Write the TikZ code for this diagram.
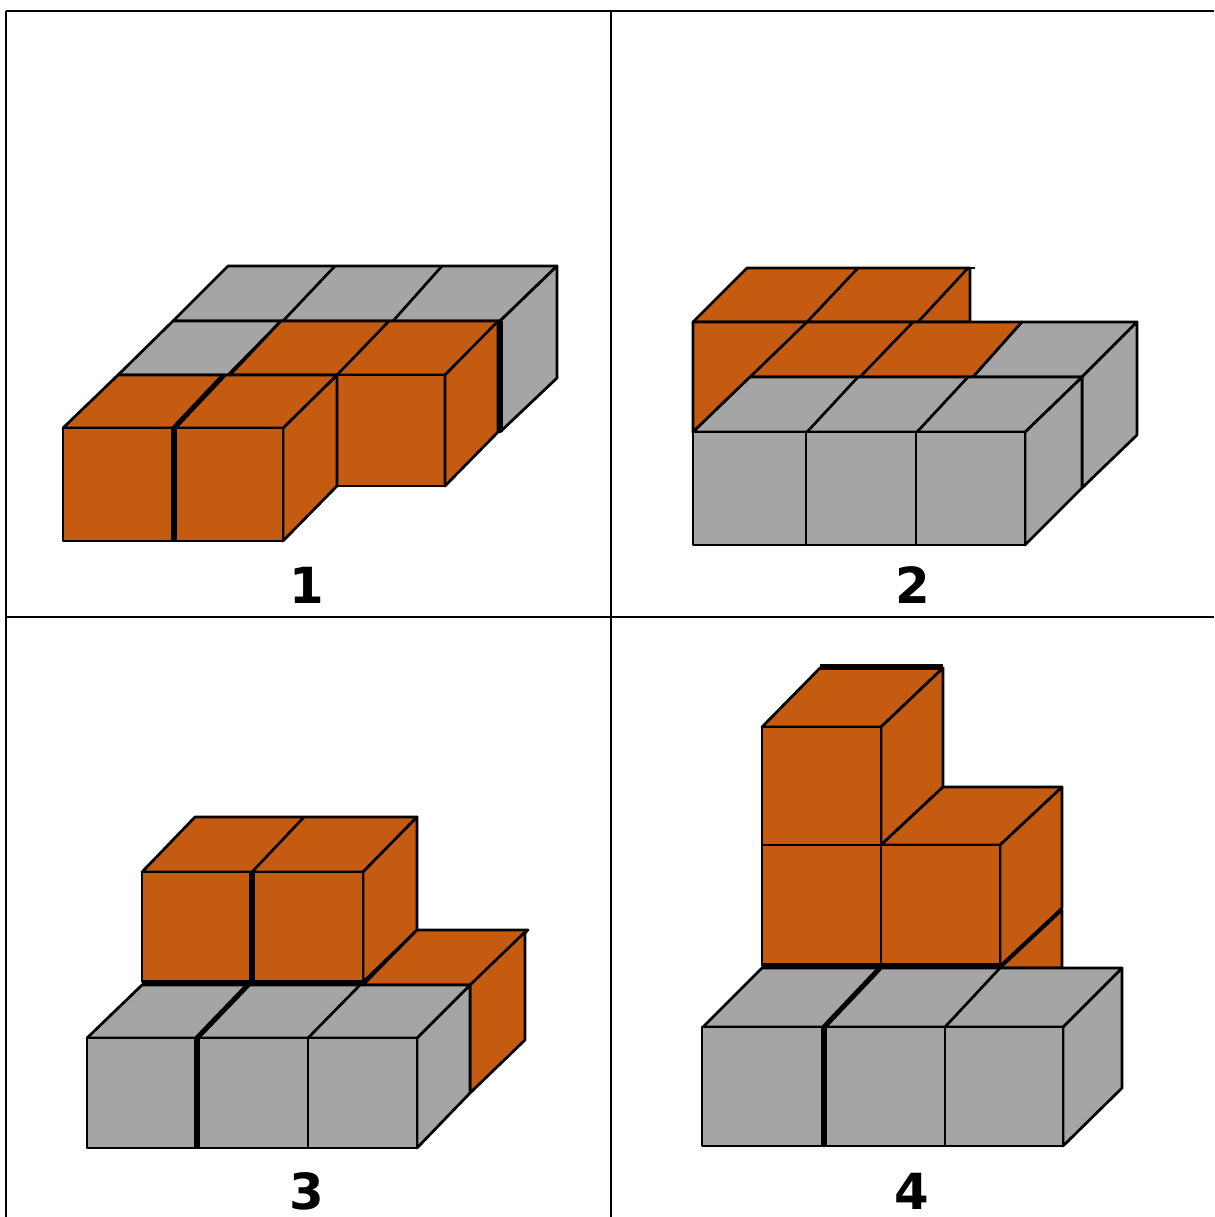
\documentclass[tikz,border=0pt]{standalone}
\usepackage{fontspec}
\setmainfont{DejaVu Sans}
\usetikzlibrary{positioning}
\definecolor{blockorange}{RGB}{197, 90, 17}
\definecolor{blockgray}{RGB}{165, 165, 165}
\tikzset{
	orangeface/.style={draw=black,line width=1.4pt,line join=round,fill=blockorange},
	grayface/.style={draw=black,line width=1.4pt,line join=round,fill=blockgray},
	gridline/.style={draw=black,line width=1.4pt},
	framerule/.style={draw=black,line width=1.1pt},
	heavyedge/.style={draw=black,line width=2.6pt},
	optionlabel/.style={font=\fontsize{25.5}{30}\selectfont\bfseries,inner sep=0pt}
}

\begin{document}
\begin{tikzpicture}[x=0.018cm,y=-0.018cm]
	\useasboundingbox (0,0) rectangle (1214,1217);
	% frame
	\draw[framerule] (6,11)--(1214,11);
	\draw[framerule] (6,617)--(1214,617);
	\draw[framerule] (6,11)--(6,1217);
	\draw[framerule] (611,11)--(611,1217);
	% option 1
	\draw[grayface] (173,321)--(228,266)--(557,266)--(500,321)--cycle;
	\draw[grayface] (500,321)--(557,266)--(557,378)--(500,432)--cycle;
	\draw[gridline] (283,321)--(335,266);
	\draw[gridline] (393,321)--(442,266);
	\draw[grayface] (118,375)--(173,321)--(281,321)--(228,375)--cycle;
	\draw[orangeface] (230,375)--(281,321)--(500,321)--(445,375)--cycle;
	\draw[gridline] (337,375)--(389,321);
	\draw[orangeface] (337,375)--(445,375)--(445,486)--(337,486)--cycle;
	\draw[orangeface] (445,375)--(498,321)--(498,432)--(445,486)--cycle;
	\draw[heavyedge] (500,321)--(500,432);
	\draw[orangeface] (283,428)--(337,375)--(337,486)--(283,541)--cycle;
	\draw[orangeface] (63,428)--(118,375)--(337,375)--(283,428)--cycle;
	\draw[heavyedge] (174,428)--(224,375);
	\draw[orangeface] (63,428)--(283,428)--(283,541)--(63,541)--cycle;
	\draw[heavyedge] (174,428)--(174,541);
	\node[optionlabel] (labelone) at (307,585) {1};
	% option 2
	\draw[orangeface] (693,322)--(747,268)--(970,268)--(970,322)--cycle;
	\draw[gridline] (807,322)--(858,268);
	\draw[gridline] (918,322)--(968,268);
	\draw[gridline] (968,268)--(975,268);
	\draw[orangeface] (693,322)--(1022,322)--(973,377)--(750,377)--(693,432)--cycle;
	\draw[gridline] (750,377)--(807,322);
	\draw[gridline] (860,377)--(913,322);
	\draw[grayface] (973,377)--(1022,322)--(1137,322)--(1082,377)--cycle;
	\draw[grayface] (1082,377)--(1137,322)--(1137,435)--(1082,488)--cycle;
	\draw[grayface] (1025,432)--(1082,377)--(1082,488)--(1025,545)--cycle;
	\draw[grayface] (693,432)--(750,377)--(1082,377)--(1025,432)--cycle;
	\draw[gridline] (807,432)--(858,377);
	\draw[gridline] (917,432)--(968,377);
	\draw[grayface] (693,432)--(1025,432)--(1025,545)--(693,545)--cycle;
	\draw[gridline] (806,432)--(806,545);
	\draw[gridline] (916,432)--(916,545);
	\node[optionlabel] (labeltwo) at (913,585) {2};
	% option 3
	\draw[orangeface] (142,872)--(195,817)--(417,817)--(363,872)--cycle;
	\draw[gridline] (252,872)--(304,817);
	\draw[orangeface] (363,872)--(417,817)--(417,930)--(363,982)--cycle;
	\draw[orangeface] (142,872)--(363,872)--(363,982)--(142,982)--cycle;
	\draw[heavyedge] (252,872)--(252,982);
	\draw[orangeface] (363,985)--(417,930)--(528,930)--(472,985)--cycle;
	\draw[orangeface] (470,985)--(525,932)--(525,1040)--(470,1093)--cycle;
	\draw[grayface] (417,1038)--(470,985)--(470,1093)--(417,1148)--cycle;
	\draw[grayface] (87,1038)--(142,985)--(470,985)--(417,1038)--cycle;
	\draw[heavyedge] (142,983)--(363,983);
	\draw[heavyedge] (197,1038)--(248,985);
	\draw[gridline] (308,1038)--(360,985);
	\draw[grayface] (87,1038)--(417,1038)--(417,1148)--(87,1148)--cycle;
	\draw[heavyedge] (197,1038)--(197,1148);
	\draw[gridline] (308,1038)--(308,1148);
	\node[optionlabel] (labelthree) at (307,1191) {3};
	% option 4
	\draw[orangeface] (762,727)--(820,668)--(943,668)--(881,727)--cycle;
	\draw[orangeface] (881,727)--(943,668)--(943,787)--(881,845)--cycle;
	\draw[heavyedge] (820,667)--(943,667);
	\draw[orangeface] (881,845)--(943,787)--(1062,787)--(1000,845)--cycle;
	\draw[orangeface] (1000,968)--(1062,910)--(1062,968)--cycle;
	\draw[orangeface] (1000,845)--(1062,787)--(1062,908)--(1000,966)--cycle;
	\draw[orangeface] (762,727)--(881,727)--(881,966)--(762,966)--cycle;
	\draw[gridline] (762,845)--(881,845);
	\draw[orangeface] (881,845)--(1000,845)--(1000,966)--(881,966)--cycle;
	\draw[grayface] (1063,1027)--(1122,968)--(1122,1088)--(1063,1146)--cycle;
	\draw[grayface] (703,1027)--(762,968)--(1122,968)--(1063,1027)--cycle;
	\draw[heavyedge] (762,966)--(1000,966);
	\draw[heavyedge] (824,1027)--(880,968);
	\draw[gridline] (945,1027)--(1000,968);
	\draw[grayface] (702,1027)--(1063,1027)--(1063,1146)--(702,1146)--cycle;
	\draw[heavyedge] (824,1027)--(824,1146);
	\draw[gridline] (945,1027)--(945,1146);
	\node[optionlabel] (labelfour) at (912,1191) {4};
\end{tikzpicture}
\end{document}
